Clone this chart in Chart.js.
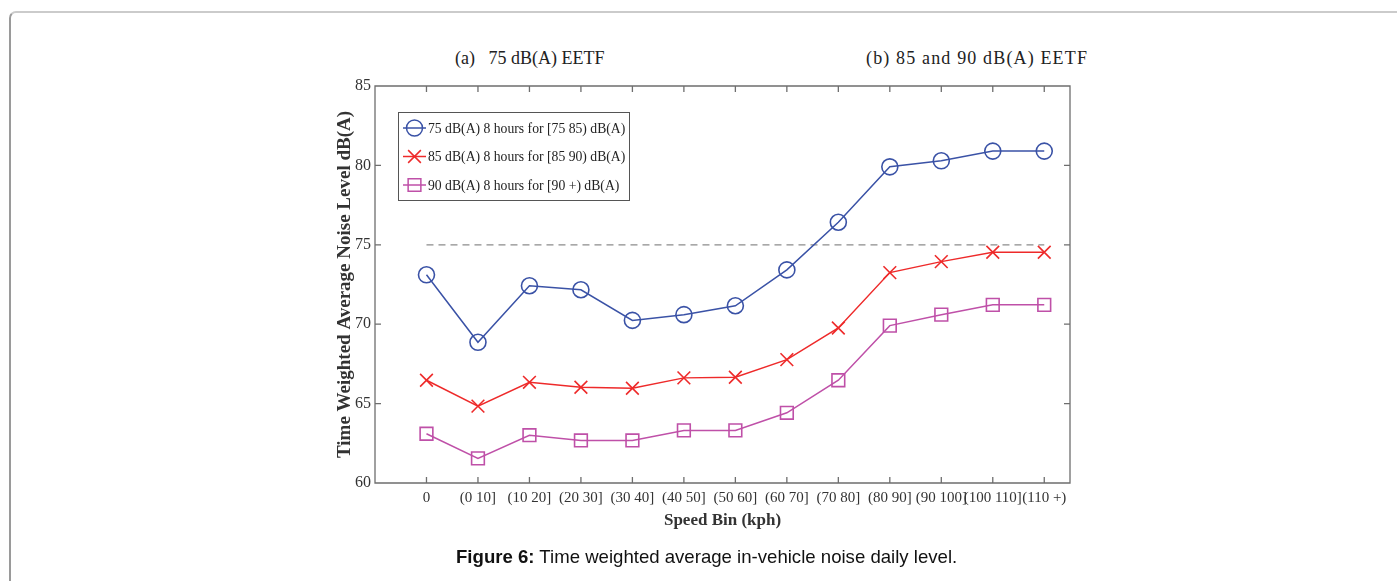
<!DOCTYPE html>
<html>
<head>
<meta charset="utf-8">
<title>Time weighted average in-vehicle noise daily level</title>
<script src="https://cdn.jsdelivr.net/npm/chart.js@4.4.1/dist/chart.umd.min.js"></script>
<style>
  html, body { margin: 0; padding: 0; background: #fff; }
  body { width: 1397px; height: 581px; position: relative; overflow: hidden; }
  .frame {
    position: absolute; left: 9px; top: 11px; width: 1500px; height: 700px;
    border-top: 2px solid #cbcbcb; border-left: 2px solid #9a9a9a;
    border-top-left-radius: 7px; box-sizing: border-box;
  }
  #wrap { position: absolute; left: 0; top: 0; width: 1397px; height: 581px; }
  .sub {
    position: absolute; top: 47px; font-family: "Liberation Serif", serif;
    font-size: 18px; color: #222; white-space: pre; line-height: 22px;
  }
  .caption {
    position: absolute; top: 546px; left: 456px; font-family: "Liberation Sans", Arial, sans-serif;
    font-size: 18.6px; color: #111; white-space: pre; line-height: 22px;
  }
</style>
</head>
<body>
<div class="frame"></div>
<div class="sub" style="left:455px">(a)   75 dB(A) EETF</div>
<div class="sub" style="left:866px; letter-spacing:1.15px">(b) 85 and 90 dB(A) EETF</div>
<div id="wrap"><canvas id="chart" width="1397" height="581"></canvas></div>
<div class="caption"><b>Figure 6:</b> Time weighted average in-vehicle noise daily level.</div>

<script>
// Speed bins along the x axis
const speedBins = ['0', '(0 10]', '(10 20]', '(20 30]', '(30 40]', '(40 50]', '(50 60]',
                   '(60 70]', '(70 80]', '(80 90]', '(90 100]', '(100 110]', '(110 +)'];

// Time weighted average noise level, dB(A), per exchange rate / threshold
const eetf75 = [73.11, 68.86, 72.42, 72.17, 70.24, 70.60, 71.16, 73.42, 76.42, 79.91, 80.29, 80.90, 80.90];
const eetf85 = [66.47, 64.84, 66.34, 66.03, 65.97, 66.62, 66.66, 67.77, 69.76, 73.25, 73.94, 74.53, 74.53];
const eetf90 = [63.10, 61.55, 63.01, 62.68, 62.68, 63.31, 63.31, 64.42, 66.47, 69.91, 70.60, 71.22, 71.22];

// 75 dB(A) reference level drawn as a dashed line
const refLevel = 75;

// Y axis ticks
const yTicks = [60, 65, 70, 75, 80, 85];

const toPoints = arr => arr.map((v, i) => ({ x: i, y: v }));

const SERIF = '"Liberation Serif", "Times New Roman", serif';
const AXIS_COLOR = '#6e6e6e';

// Box round the plot area with MATLAB-style inward ticks on all four sides
const boxTicks = {
  id: 'boxTicks',
  beforeDatasetsDraw(chart) {
    const { ctx, chartArea: a, scales: { x, y } } = chart;
    const len = 6;
    ctx.save();
    ctx.strokeStyle = AXIS_COLOR;
    ctx.lineWidth = 1.3;
    ctx.beginPath();
    ctx.rect(a.left, a.top, a.right - a.left, a.bottom - a.top);
    speedBins.forEach((_, i) => {
      const px = x.getPixelForValue(i);
      ctx.moveTo(px, a.bottom); ctx.lineTo(px, a.bottom - len);
      ctx.moveTo(px, a.top); ctx.lineTo(px, a.top + len);
    });
    yTicks.forEach(v => {
      const py = y.getPixelForValue(v);
      ctx.moveTo(a.left, py); ctx.lineTo(a.left + len, py);
      ctx.moveTo(a.right, py); ctx.lineTo(a.right - len, py);
    });
    ctx.stroke();
    ctx.restore();
  }
};

// Boxed legend inside the upper-left of the plot area
const boxLegend = {
  id: 'boxLegend',
  afterDatasetsDraw(chart) {
    const { ctx, chartArea: a } = chart;
    const items = chart.data.datasets.filter(d => d.label);
    const bx = a.left + 23, by = a.top + 26, bw = 231, bh = 88;
    const rowY0 = by + 16, rowGap = 28.5;
    ctx.save();
    ctx.fillStyle = '#fff';
    ctx.fillRect(bx, by, bw, bh);
    ctx.strokeStyle = '#555';
    ctx.lineWidth = 1;
    ctx.strokeRect(bx + 0.5, by + 0.5, bw, bh);
    ctx.font = '13.7px ' + SERIF;
    ctx.textBaseline = 'middle';
    items.forEach((d, i) => {
      const yy = rowY0 + i * rowGap;
      const x0 = bx + 5, x1 = bx + 28, xm = (x0 + x1) / 2;
      ctx.strokeStyle = d.borderColor;
      ctx.lineWidth = d.borderWidth;
      ctx.beginPath(); ctx.moveTo(x0, yy); ctx.lineTo(x1, yy); ctx.stroke();
      ctx.fillStyle = 'rgba(0,0,0,0)';
      Chart.helpers.drawPoint(ctx, {
        pointStyle: d.pointStyle, radius: d.pointRadius, rotation: 0, borderWidth: d.pointBorderWidth
      }, xm, yy);
      ctx.fillStyle = '#222';
      ctx.fillText(d.label, x1 + 2, yy + 1);
    });
    ctx.restore();
  }
};

const series = (label, data, color, style, radius) => ({
  label,
  data: toPoints(data),
  borderColor: color,
  backgroundColor: color,
  borderWidth: 1.5,
  pointStyle: style,
  pointRadius: radius,
  pointHoverRadius: radius,
  pointBorderColor: color,
  pointBackgroundColor: 'rgba(0,0,0,0)',
  pointBorderWidth: 1.6,
  tension: 0
});

new Chart(document.getElementById('chart'), {
  type: 'line',
  data: {
    datasets: [
      series('75 dB(A) 8 hours for [75 85) dB(A)', eetf75, '#3a52a6', 'circle', 8),
      series('85 dB(A) 8 hours for [85 90) dB(A)', eetf85, '#ee2a2a', 'crossRot', 9),
      series('90 dB(A) 8 hours for [90 +) dB(A)', eetf90, '#bf50a8', 'rect', 9),
      {
        label: '',
        data: [{ x: 0, y: refLevel }, { x: speedBins.length - 1, y: refLevel }],
        borderColor: '#8c8c8c',
        borderWidth: 1.2,
        borderDash: [7, 5],
        pointRadius: 0,
        tension: 0
      }
    ]
  },
  options: {
    responsive: false,
    animation: false,
    devicePixelRatio: 1,
    layout: { padding: { left: 334, top: 86, right: 327, bottom: 48 } },
    plugins: { legend: { display: false }, tooltip: { enabled: false }, title: { display: false } },
    scales: {
      x: {
        type: 'linear',
        min: -1,
        max: 12.5,
        afterBuildTicks: s => { s.ticks = speedBins.map((_, i) => ({ value: i })); },
        afterFit: s => { s.height = 50; },
        grid: { display: false, drawTicks: false },
        border: { display: false },
        ticks: {
          autoSkip: false,
          maxRotation: 0,
          padding: 6,
          color: '#333',
          font: { family: SERIF, size: 15 },
          callback: v => speedBins[v] ?? ''
        },
        title: {
          display: true,
          text: 'Speed Bin (kph)',
          color: '#333',
          font: { family: SERIF, size: 17, weight: 'bold' },
          padding: { top: 0, bottom: 2 }
        }
      },
      y: {
        min: 60,
        max: 85,
        afterBuildTicks: s => { s.ticks = yTicks.map(v => ({ value: v })); },
        afterFit: s => { s.width = 41; },
        grid: { display: false, drawTicks: false },
        border: { display: false },
        ticks: {
          padding: 4,
          color: '#333',
          font: { family: SERIF, size: 16 }
        },
        title: {
          display: true,
          text: 'Time Weighted Average Noise Level dB(A)',
          color: '#333',
          font: { family: SERIF, size: 19, weight: 'bold' },
          padding: { top: 0, bottom: 0 }
        }
      }
    }
  },
  plugins: [boxTicks, boxLegend]
});
</script>
</body>
</html>
